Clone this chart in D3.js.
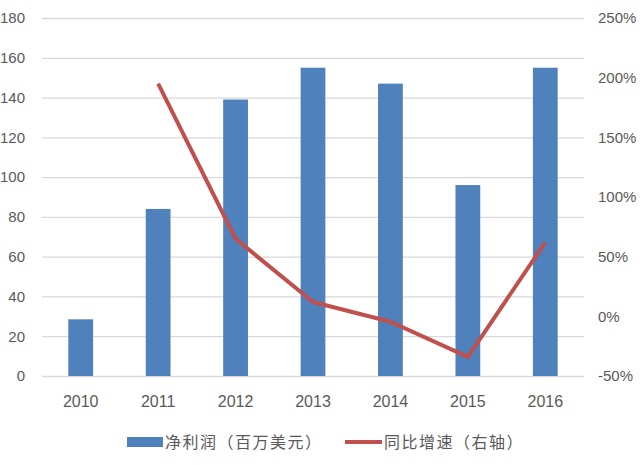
<!DOCTYPE html>
<html>
<head>
<meta charset="utf-8">
<script src="https://cdn.jsdelivr.net/npm/d3@7"></script>
<style>
  body { margin: 0; background: #fff; }
  svg { display: block; }
</style>
</head>
<body>
<svg id="chart"></svg>
<script>

// DATA

const years = ["2010", "2011", "2012", "2013", "2014", "2015", "2016"];
const netProfit = [28.5, 84, 139, 155, 147, 96, 155];
const growth = [null, 195, 65, 12, -4.5, -34, 62];

const leftTicks = [0, 20, 40, 60, 80, 100, 120, 140, 160, 180];
const rightTicks = [-50, 0, 50, 100, 150, 200, 250];

const barLabel = "净利润（百万美元）";
const lineLabel = "同比增速（右轴）";


// SETUP

const width = 640;
const height = 465;

const svg = d3.select("#chart")
    .attr("width", width)
    .attr("height", height);

const plotLeft = 42;
const plotRight = 584;
const plotTop = 18;
const plotBottom = 376;

const barColor = "#4F81BD";
const lineColor = "#C0504D";
const textColor = "#595959";
const gridColor = "#D9D9D9";

const x = d3.scaleBand()
    .domain(years)
    .range([plotLeft, plotRight])
    .paddingInner(0.68)
    .paddingOuter(0.34);

const yLeft = d3.scaleLinear()
    .domain([0, 180])
    .range([plotBottom, plotTop]);

const yRight = d3.scaleLinear()
    .domain([-50, 250])
    .range([plotBottom, plotTop]);


// GRIDLINES + LEFT AXIS

const leftAxis = d3.axisLeft(yLeft)
    .tickValues(leftTicks)
    .tickSize(-(plotRight - plotLeft))
    .tickPadding(17);

const gLeft = svg.append("g")
    .attr("transform", "translate(" + plotLeft + ",0)")
    .call(leftAxis);

gLeft.select(".domain").remove();
gLeft.selectAll(".tick line")
    .attr("stroke", gridColor)
    .attr("stroke-width", 1.3);
gLeft.selectAll(".tick text")
    .attr("fill", textColor)
    .attr("font-family", "Liberation Sans, Arial, sans-serif")
    .attr("font-size", 15);


// RIGHT AXIS

const rightAxis = d3.axisRight(yRight)
    .tickValues(rightTicks)
    .tickSize(0)
    .tickPadding(14)
    .tickFormat(function (d) { return d + "%"; });

const gRight = svg.append("g")
    .attr("transform", "translate(" + plotRight + ",0)")
    .call(rightAxis);

gRight.select(".domain").remove();
gRight.selectAll(".tick text")
    .attr("fill", textColor)
    .attr("font-family", "Liberation Sans, Arial, sans-serif")
    .attr("font-size", 15);


// BOTTOM AXIS

const bottomAxis = d3.axisBottom(x)
    .tickSize(0)
    .tickPadding(20);

const gBottom = svg.append("g")
    .attr("transform", "translate(0," + plotBottom + ")")
    .call(bottomAxis);

gBottom.select(".domain").remove();
gBottom.selectAll(".tick text")
    .attr("fill", textColor)
    .attr("font-family", "Liberation Sans, Arial, sans-serif")
    .attr("font-size", 16);


// BARS

svg.append("g")
    .selectAll("rect")
    .data(years)
    .join("rect")
    .attr("x", function (d) { return x(d); })
    .attr("y", function (d, i) { return yLeft(netProfit[i]); })
    .attr("width", x.bandwidth())
    .attr("height", function (d, i) { return plotBottom - yLeft(netProfit[i]); })
    .attr("fill", barColor);


// LINE

const linePoints = [];

for (let i = 0; i < years.length; i++) {
    if (growth[i] !== null) {
        linePoints.push({ year: years[i], value: growth[i] });
    }
}

const line = d3.line()
    .x(function (d) { return x(d.year) + x.bandwidth() / 2; })
    .y(function (d) { return yRight(d.value); });

svg.append("path")
    .datum(linePoints)
    .attr("d", line)
    .attr("fill", "none")
    .attr("stroke", lineColor)
    .attr("stroke-width", 4)
    .attr("stroke-linejoin", "round");


// LEGEND

const legend = svg.append("g")
    .attr("font-family", "Noto Sans CJK SC, sans-serif")
    .attr("font-size", 16)
    .attr("letter-spacing", 1.5)
    .attr("fill", textColor);

legend.append("rect")
    .attr("x", 127)
    .attr("y", 437)
    .attr("width", 36)
    .attr("height", 10)
    .attr("fill", barColor);

legend.append("text")
    .attr("x", 165)
    .attr("y", 442)
    .attr("dy", "0.35em")
    .text(barLabel);

legend.append("line")
    .attr("x1", 345)
    .attr("x2", 382)
    .attr("y1", 442)
    .attr("y2", 442)
    .attr("stroke", lineColor)
    .attr("stroke-width", 4);

legend.append("text")
    .attr("x", 384)
    .attr("y", 442)
    .attr("dy", "0.35em")
    .text(lineLabel);

</script>
</body>
</html>
